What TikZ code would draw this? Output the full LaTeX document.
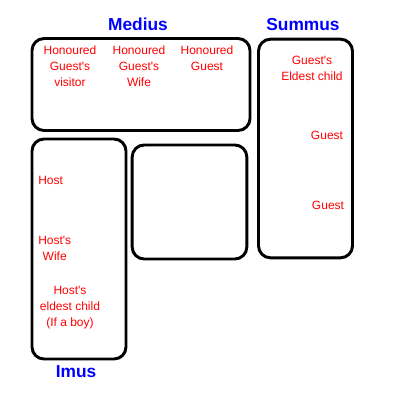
\documentclass[tikz,border=0pt]{standalone}
\usepackage{fontspec}
\setmainfont{Liberation Sans}[Ligatures=TeXOff]
\usepackage{tikz}
\usetikzlibrary{positioning}

\begin{document}
\begin{tikzpicture}[
    x=0.75pt, y=-0.75pt,
    couch/.style={rectangle, draw=black, line width=2.2pt, rounded corners=9pt, inner sep=0pt, minimum width=#1},
    seat/.style={text=red, font=\fontsize{9}{12}\selectfont, align=center, inner sep=0pt},
    title/.style={text=blue, font=\fontsize{13}{15}\selectfont\bfseries, inner sep=0pt}
]
\useasboundingbox (0,0) rectangle (400,400);

% === COUCHES ===
\node[couch=163.5pt, minimum height=69pt] (medius) at (141, 84.5) {};
\node[couch=70.5pt, minimum height=164pt] (summus) at (305.5, 148.5) {};
\node[couch=86pt, minimum height=85.5pt] (table) at (189.5, 202) {};
\node[couch=70.5pt, minimum height=165pt] (imus) at (79, 249) {};

% === TITLES ===
\node[title] (mediuslbl) at (138, 24) {Medius};
\node[title] (summuslbl) at (303, 25) {Summus};
\node[title] (imuslbl) at (76, 372) {Imus};

% === MEDIUS ===
\node[seat] (visitor) at (70, 66) {Honoured\\Guest's\\visitor};
\node[seat] (hgwife) at (139, 66) {Honoured\\Guest's\\Wife};
\node[seat] (hguest) at (207, 58) {Honoured\\Guest};

% === SUMMUS ===
\node[seat] (gchild) at (312, 68) {Guest's\\Eldest child};
\node[seat] (guesta) at (327, 135) {Guest};
\node[seat] (guestb) at (328, 205) {Guest};

% === IMUS ===
\node[seat, anchor=west] (host) at (38, 180) {Host};
\node[seat, anchor=west] (hwife) at (38, 248) {Host's\\Wife};
\node[seat] (hchild) at (70, 308) {Host's\\eldest child\\(If a boy)};

\end{tikzpicture}
\end{document}
